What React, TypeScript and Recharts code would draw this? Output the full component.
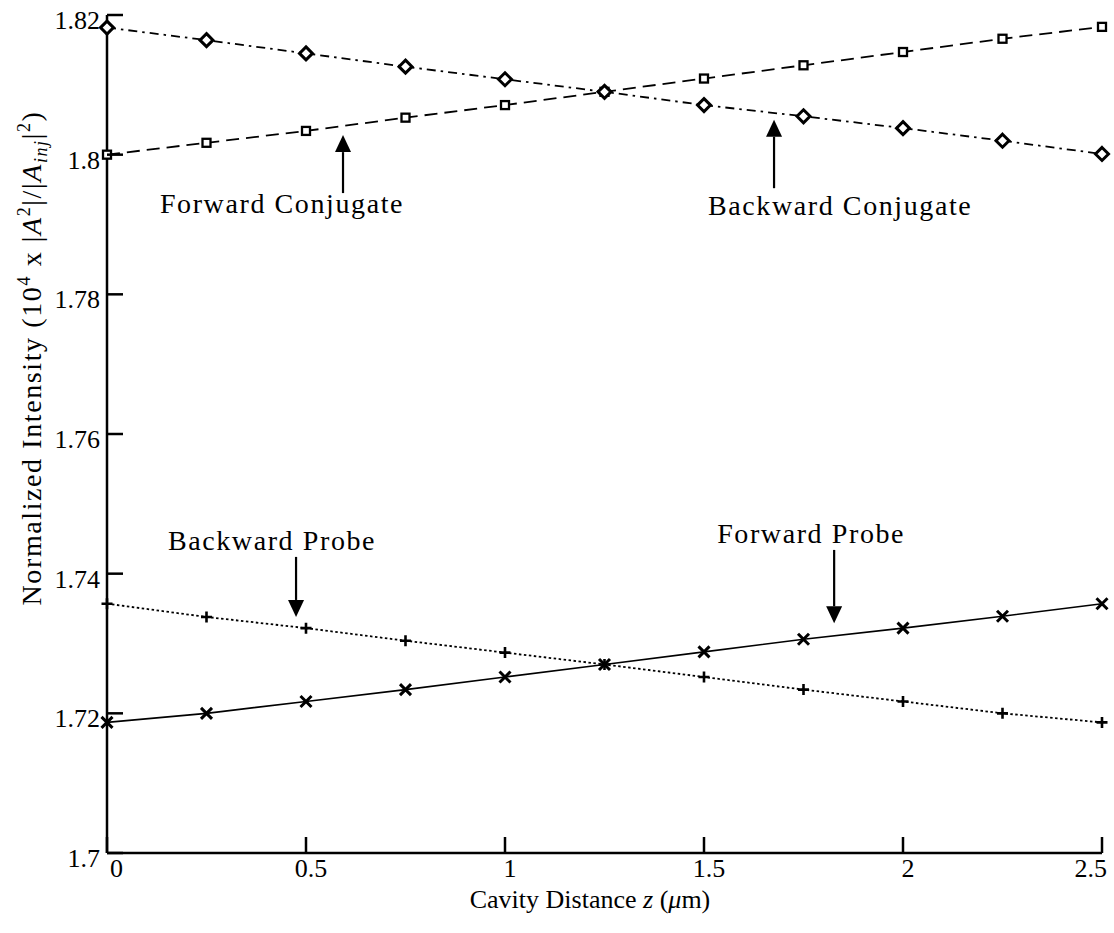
import { LineChart, Line, XAxis, YAxis, ReferenceLine, ReferenceDot } from "recharts";

const SERIF = '"Liberation Serif", "Times New Roman", serif';

// cavity positions (um) and the four normalized intensities
const zPositions = [0, 0.25, 0.5, 0.75, 1, 1.25, 1.5, 1.75, 2, 2.25, 2.5];
const forwardConjugate = [1.8, 1.8017, 1.8034, 1.8053, 1.8071, 1.809, 1.8109, 1.8128, 1.8147, 1.8166, 1.8183];
const backwardConjugate = [1.8182, 1.8164, 1.8145, 1.8126, 1.8108, 1.809, 1.8071, 1.8055, 1.8038, 1.802, 1.8001];
const forwardProbe = [1.7187, 1.72, 1.7217, 1.7234, 1.7252, 1.727, 1.7288, 1.7306, 1.7322, 1.7339, 1.7357];
const backwardProbe = [1.7357, 1.7338, 1.7322, 1.7304, 1.7287, 1.727, 1.7252, 1.7234, 1.7217, 1.72, 1.7187];

const xTicks = [0, 0.5, 1, 1.5, 2, 2.5];
const yTicks = [1.7, 1.72, 1.74, 1.76, 1.78, 1.8, 1.82];

// callout text + arrows, in data units
const noteText = ["Forward Conjugate", "Backward Conjugate", "Backward Probe", "Forward Probe"];
const noteZ = [0.133, 1.51, 0.153, 1.533];
const noteY = [1.7917, 1.7914, 1.7434, 1.7444];
const arrowZ = [0.593, 1.676, 0.475, 1.827];
const arrowFrom = [1.7945, 1.7952, 1.7424, 1.7434];
const arrowTo = [1.8028, 1.805, 1.7338, 1.7329];

const data = zPositions.map((z, i) => ({
  z,
  fc: forwardConjugate[i],
  bc: backwardConjugate[i],
  fp: forwardProbe[i],
  bp: backwardProbe[i],
}));

const TICK = 16;

const BottomTick = (props: any) => {
  const { x, y, payload, index } = props;
  const v = payload.value;
  let anchor = "middle";
  let tx = x + 5;
  if (index === 0) {
    anchor = "start";
    tx = x + 3;
  } else if (v === 2.5) {
    anchor = "end";
    tx = x + 5;
  }
  return (
    <g>
      <line x1={x} y1={y} x2={x} y2={y - TICK} stroke="#000" strokeWidth={2.5} />
      <text x={tx} y={y + 24} textAnchor={anchor} fontFamily={SERIF} fontSize={26} fill="#000">
        {v}
      </text>
    </g>
  );
};

const LeftTick = (props: any) => {
  const { x, y, payload } = props;
  return (
    <g>
      <line x1={x} y1={y} x2={x + TICK} y2={y} stroke="#000" strokeWidth={2.5} />
      <text x={x - 7} y={y + 14} textAnchor="end" fontFamily={SERIF} fontSize={26} fill="#000">
        {payload.value}
      </text>
    </g>
  );
};

const TopTick = (props: any) => {
  const { x, y } = props;
  return <line x1={x} y1={y} x2={x} y2={y + TICK} stroke="#000" strokeWidth={2.5} />;
};

const RightTick = (props: any) => {
  const { x, y } = props;
  return <line x1={x} y1={y} x2={x - TICK} y2={y} stroke="#000" strokeWidth={2.5} />;
};

// markers
const squareDot = (p: any) => (
  <rect key={`sq-${p.index}`} x={p.cx - 4} y={p.cy - 4} width={8} height={8} fill="#fff" stroke="#000" strokeWidth={2.3} />
);
const diamondDot = (p: any) => {
  const { cx, cy } = p;
  const r = 6.5;
  return (
    <path
      key={`dm-${p.index}`}
      d={`M${cx},${cy - r}L${cx + r},${cy}L${cx},${cy + r}L${cx - r},${cy}Z`}
      fill="#fff"
      stroke="#000"
      strokeWidth={3}
    />
  );
};
const crossDot = (p: any) => {
  const { cx, cy } = p;
  const r = 5.5;
  return (
    <path
      key={`x-${p.index}`}
      d={`M${cx - r},${cy - r}L${cx + r},${cy + r}M${cx - r},${cy + r}L${cx + r},${cy - r}`}
      stroke="#000"
      strokeWidth={3}
    />
  );
};
const plusDot = (p: any) => {
  const { cx, cy } = p;
  const r = 5.5;
  return (
    <path
      key={`p-${p.index}`}
      d={`M${cx - r},${cy}L${cx + r},${cy}M${cx},${cy - r}L${cx},${cy + r}`}
      stroke="#000"
      strokeWidth={2.6}
    />
  );
};

const Arrow = (props: any) => {
  const { x1, y1, x2, y2 } = props;
  const dir = y2 > y1 ? 1 : -1;
  const head = 17;
  const hw = 8;
  return (
    <g>
      <line x1={x1} y1={y1} x2={x2} y2={y2 - dir * head} stroke="#000" strokeWidth={2.2} />
      <polygon points={`${x2},${y2} ${x2 - hw},${y2 - dir * head} ${x2 + hw},${y2 - dir * head}`} fill="#000" />
    </g>
  );
};

const noteShape = (text: string) => (props: any) => (
  <text x={props.cx} y={props.cy} fontFamily={SERIF} fontSize={28} letterSpacing={1.6} fill="#000">
    {text}
  </text>
);

export default function App() {
  return (
    <div style={{ position: "absolute", left: 0, top: 0, width: 1114, height: 933, background: "#fff" }}>
      <LineChart width={1114} height={933} data={data} margin={{ top: 15, right: 12, bottom: 0, left: 0 }}>
        <XAxis
          dataKey="z"
          type="number"
          domain={[0, 2.5]}
          ticks={xTicks}
          height={80}
          tickSize={0}
          tickMargin={0}
          tick={<BottomTick />}
          axisLine={{ stroke: "#000", strokeWidth: 2.5 }}
          interval={0}
        />
        <XAxis
          xAxisId="top"
          orientation="top"
          dataKey="z"
          type="number"
          domain={[0, 2.5]}
          ticks={xTicks}
          height={0}
          tickSize={0}
          tickMargin={0}
          tick={<TopTick />}
          axisLine={{ stroke: "#000", strokeWidth: 2.5 }}
          interval={0}
        />
        <YAxis
          type="number"
          domain={[1.7, 1.82]}
          ticks={yTicks}
          width={107}
          tickSize={0}
          tickMargin={0}
          tick={<LeftTick />}
          axisLine={{ stroke: "#000", strokeWidth: 2.5 }}
          interval={0}
        />
        <YAxis
          yAxisId="right"
          orientation="right"
          type="number"
          domain={[1.7, 1.82]}
          ticks={yTicks}
          width={0}
          tickSize={0}
          tickMargin={0}
          tick={<RightTick />}
          axisLine={{ stroke: "#000", strokeWidth: 2.5 }}
          interval={0}
        />

        <Line dataKey="fc" stroke="#000" strokeWidth={1.8} strokeDasharray="13 7" dot={squareDot} isAnimationActive={false} />
        <Line dataKey="bc" stroke="#000" strokeWidth={1.8} strokeDasharray="9 5 2.5 5" dot={diamondDot} isAnimationActive={false} />
        <Line dataKey="bp" stroke="#000" strokeWidth={1.8} strokeDasharray="2.5 2.5" dot={plusDot} isAnimationActive={false} />
        <Line dataKey="fp" stroke="#000" strokeWidth={1.6} dot={crossDot} isAnimationActive={false} />

        {arrowZ.map((z, i) => (
          <ReferenceLine
            key={`arrow-${i}`}
            segment={[
              { x: z, y: arrowFrom[i] },
              { x: z, y: arrowTo[i] },
            ]}
            shape={Arrow}
            ifOverflow="visible"
          />
        ))}
        {noteText.map((t, i) => (
          <ReferenceDot key={`note-${i}`} x={noteZ[i]} y={noteY[i]} r={0} shape={noteShape(t)} ifOverflow="visible" />
        ))}
      </LineChart>

      <svg width={1114} height={933} style={{ position: "absolute", left: 0, top: 0, pointerEvents: "none" }}>
        <text x={590} y={908} textAnchor="middle" fontFamily={SERIF} fontSize={26} fill="#000">
          Cavity Distance <tspan fontStyle="italic">z</tspan> (<tspan fontStyle="italic">μ</tspan>m)
        </text>
        <text
          x={41}
          y={358}
          transform="rotate(-90, 41, 358)"
          textAnchor="middle"
          fontFamily={SERIF}
          fontSize={28}
          letterSpacing={1.6}
          fill="#000"
        >
          Normalized Intensity (10
          <tspan dy={-11} fontSize={18}>4</tspan>
          <tspan dy={11}> x |</tspan>
          <tspan fontStyle="italic">A</tspan>
          <tspan dy={-11} fontSize={18}>2</tspan>
          <tspan dy={11}>|/|</tspan>
          <tspan fontStyle="italic">A</tspan>
          <tspan dy={6} fontSize={18} fontStyle="italic">inj</tspan>
          <tspan dy={-6}>|</tspan>
          <tspan dy={-11} fontSize={18}>2</tspan>
          <tspan dy={11}>)</tspan>
        </text>
      </svg>
    </div>
  );
}
